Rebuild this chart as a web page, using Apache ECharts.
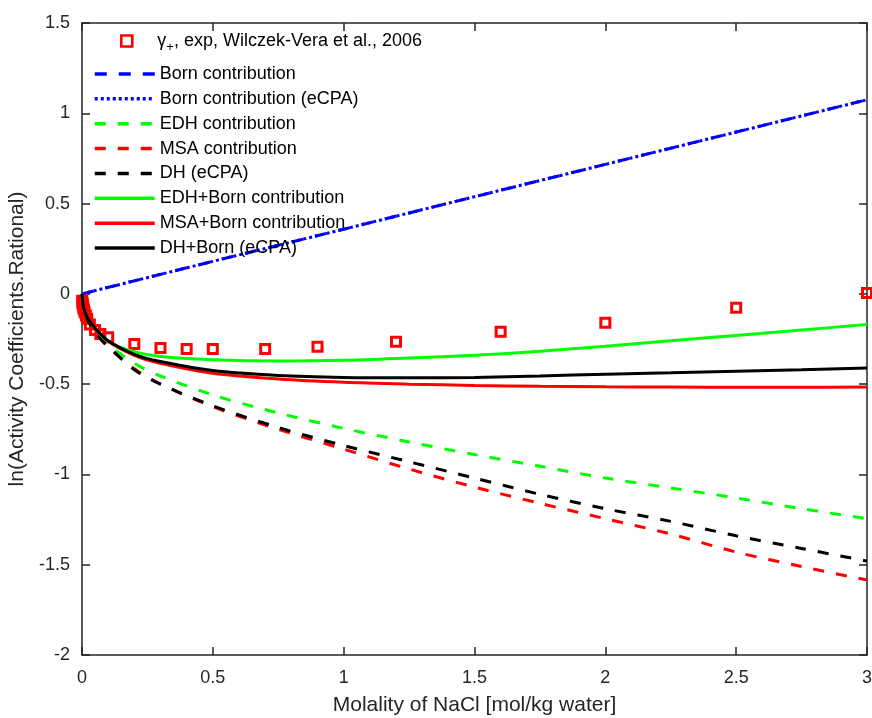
<!DOCTYPE html>
<html>
<head>
<meta charset="utf-8">
<script src="https://cdn.jsdelivr.net/npm/echarts@6/dist/echarts.min.js"></script>
<style>
html,body{margin:0;padding:0;background:#fff;}
#chart{width:872px;height:718px;}
</style>
</head>
<body>
<div id="chart"></div>
<script>
// Experimental data (Wilczek-Vera et al., 2006)
const expMolality = [0.001, 0.002, 0.003, 0.005, 0.007, 0.01, 0.015, 0.02, 0.03, 0.05, 0.07, 0.1, 0.2, 0.3, 0.4, 0.5, 0.7, 0.9, 1.2, 1.6, 2.0, 2.5, 3.0];
const expLnGamma  = [-0.038, -0.05, -0.06, -0.075, -0.087, -0.102, -0.12, -0.138, -0.17, -0.2, -0.222, -0.24, -0.277, -0.3, -0.305, -0.305, -0.305, -0.293, -0.265, -0.21, -0.16, -0.077, 0.005];

// Model curves
const molality = [0, 0.005, 0.01, 0.02, 0.05, 0.1, 0.2, 0.3, 0.5, 0.75, 1.0, 1.25, 1.5, 1.75, 2.0, 2.25, 2.5, 2.75, 3.0];
const bornMolality = [0, 0.5, 1.0, 1.5, 2.0, 2.5, 3.0];
const bornContribution     = [0, 0.18, 0.358, 0.538, 0.717, 0.896, 1.075];
const bornContributionECPA = [0, 0.18, 0.358, 0.538, 0.717, 0.896, 1.075];
const edhContribution = [0, -0.075, -0.10, -0.14, -0.21, -0.28, -0.385, -0.455, -0.56, -0.66, -0.745, -0.82, -0.89, -0.955, -1.02, -1.075, -1.13, -1.19, -1.245];
const msaContribution = [0, -0.075, -0.10, -0.14, -0.215, -0.295, -0.415, -0.50, -0.625, -0.75, -0.86, -0.97, -1.07, -1.16, -1.245, -1.33, -1.43, -1.51, -1.585];
const dhECPA          = [0, -0.075, -0.10, -0.14, -0.215, -0.29, -0.42, -0.50, -0.62, -0.74, -0.84, -0.93, -1.02, -1.11, -1.19, -1.26, -1.34, -1.41, -1.48];
const edhBorn = [0, -0.07, -0.095, -0.13, -0.19, -0.265, -0.32, -0.347, -0.365, -0.372, -0.368, -0.355, -0.34, -0.318, -0.29, -0.26, -0.23, -0.2, -0.17];
const msaBorn = [0, -0.07, -0.095, -0.13, -0.19, -0.262, -0.34, -0.385, -0.44, -0.472, -0.49, -0.5, -0.507, -0.512, -0.515, -0.516, -0.517, -0.517, -0.516];
const dhBornECPA = [0, -0.07, -0.095, -0.13, -0.19, -0.26, -0.335, -0.375, -0.425, -0.452, -0.463, -0.465, -0.463, -0.455, -0.445, -0.437, -0.428, -0.42, -0.41];

const names = {
  exp: 'exp',
  born: 'Born contribution',
  bornE: 'Born contribution (eCPA)',
  edh: 'EDH contribution',
  msa: 'MSA contribution',
  dh: 'DH (eCPA)',
  edhB: 'EDH+Born contribution',
  msaB: 'MSA+Born contribution',
  dhB: 'DH+Born (eCPA)'
};

const pairs = (xs, ys) => xs.map((x, i) => [x, ys[i]]);
const FONT = 'Liberation Sans, Arial, sans-serif';
const AX = '#262626';

function lineSeries(name, xs, ys, color, type, smooth) {
  return {
    name, type: 'line', data: pairs(xs, ys), symbol: 'none', showSymbol: false,
    smooth: smooth, clip: true,
    lineStyle: { color, width: 3, type },
    itemStyle: { color },
    emphasis: { disabled: true }
  };
}

const chart = echarts.init(document.getElementById('chart'), null, { renderer: 'canvas' });
const axisCommon = {
  axisLine: { show: true, onZero: false, lineStyle: { color: AX, width: 1.5 } },
  axisTick: { show: true, inside: true, length: 8, lineStyle: { color: AX, width: 1.5 } },
  splitLine: { show: false }
};
chart.setOption({
  animation: false,
  backgroundColor: '#fff',
  textStyle: { fontFamily: FONT },
  grid: { left: 82, right: 5, top: 23, bottom: 63, containLabel: false, outerBoundsMode: 'none' },
  xAxis: [
    Object.assign({
      type: 'value', min: 0, max: 3, interval: 0.5, position: 'bottom',
      name: 'Molality of NaCl [mol/kg water]', nameLocation: 'middle', nameGap: 40,
      nameTextStyle: { fontSize: 21, color: AX, fontFamily: FONT },
      axisLabel: { fontSize: 18, color: AX, margin: 14, fontFamily: FONT }
    }, axisCommon),
    Object.assign({
      type: 'value', min: 0, max: 3, interval: 0.5, position: 'top',
      axisLabel: { show: false }
    }, axisCommon)
  ],
  yAxis: [
    Object.assign({
      type: 'value', min: -2, max: 1.5, interval: 0.5, position: 'left',
      name: 'ln(Activity Coefficients.Rational)', nameLocation: 'middle', nameGap: 50,
      nameTextStyle: { fontSize: 21, color: AX, fontFamily: FONT },
      axisLabel: { fontSize: 18, color: AX, margin: 12, fontFamily: FONT }
    }, axisCommon),
    Object.assign({
      type: 'value', min: -2, max: 1.5, interval: 0.5, position: 'right',
      axisLabel: { show: false }
    }, axisCommon)
  ],
  legend: [
    {
      data: [{ name: names.exp, icon: 'rect',
        itemStyle: { color: 'rgba(0,0,0,0)', borderColor: '#ff0000', borderWidth: 2.6, opacity: 1 } }],
      orient: 'vertical', left: 115, top: 26,
      itemWidth: 11, itemHeight: 11, selectedMode: false,
      formatter: () => '{gap|}γ{sub|+}, exp, Wilczek-Vera et al., 2006',
      textStyle: {
        fontSize: 18, color: '#000', fontFamily: FONT, lineHeight: 20,
        rich: {
          gap: { width: 20 },
          sub: { fontSize: 13, fontFamily: FONT, color: '#000', padding: [12, 0, 0, 0] }
        }
      }
    },
    {
      data: [names.born, names.bornE, names.edh, names.msa, names.dh, names.edhB, names.msaB, names.dhB],
      orient: 'vertical', left: 88, top: 59,
      itemWidth: 60, itemHeight: 14, itemGap: 4.86, selectedMode: false,
      itemStyle: { opacity: 0, borderWidth: 0 },
      lineStyle: { width: 3.5 },
      textStyle: { fontSize: 18, color: '#000', fontFamily: FONT, lineHeight: 20 }
    }
  ],
  series: [
    {
      name: names.exp, type: 'scatter', data: pairs(expMolality, expLnGamma),
      symbol: 'rect', symbolSize: 9,
      itemStyle: { color: 'rgba(0,0,0,0)', borderColor: '#ff0000', borderWidth: 3, opacity: 1 },
      emphasis: { disabled: true }, z: 2
    },
    lineSeries(names.born, bornMolality, bornContribution, '#0000ff', [12, 12], false),
    lineSeries(names.bornE, bornMolality, bornContributionECPA, '#0000ff', [3, 3], false),
    lineSeries(names.edh, molality, edhContribution, '#00ff00', [11, 12], 0.3),
    lineSeries(names.msa, molality, msaContribution, '#ff0000', [11, 12], 0.3),
    lineSeries(names.dh, molality, dhECPA, '#000000', [11, 12], 0.3),
    lineSeries(names.edhB, molality, edhBorn, '#00ff00', 'solid', 0.3),
    lineSeries(names.msaB, molality, msaBorn, '#ff0000', 'solid', 0.3),
    lineSeries(names.dhB, molality, dhBornECPA, '#000000', 'solid', 0.3)
  ]
});
</script>
</body>
</html>
